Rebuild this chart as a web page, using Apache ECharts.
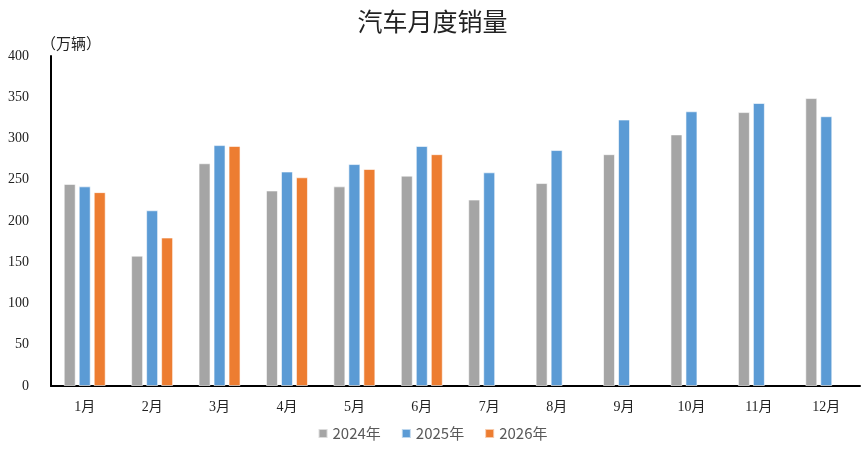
<!DOCTYPE html>
<html>
<head>
<meta charset="utf-8">
<script src="https://cdn.jsdelivr.net/npm/echarts@6/dist/echarts.min.js"></script>
<style>
  html, body { margin: 0; padding: 0; background: #fff; }
  #chart { width: 865px; height: 450px; }
</style>
</head>
<body>
<div id="chart"></div>
<script>
const months = ['1月', '2月', '3月', '4月', '5月', '6月', '7月', '8月', '9月', '10月', '11月', '12月']
const sales2024 = [245, 158, 270, 237, 242, 255, 226, 246, 281, 305, 332, 349]
const sales2025 = [242, 213, 292, 260, 269, 291, 259, 286, 323, 333, 343, 327]
const sales2026 = [235, 180, 291, 253, 263, 281, null, null, null, null, null, null]
const yTicks = [0, 400, 50]

const labelFont = '"Liberation Serif", "Noto Sans CJK SC", serif'

const makeBar = (name, data, color) => ({
  name,
  type: 'bar',
  data,
  barWidth: 12,
  barGap: '25%',
  itemStyle: { color, borderColor: 'rgba(255,255,255,0.6)', borderWidth: 1 }
})

const chart = echarts.init(document.getElementById('chart'))
chart.setOption({
  animation: false,
  title: {
    text: '汽车月度销量',
    left: 'center',
    top: 4,
    textStyle: { color: '#222', fontWeight: 'normal', fontSize: 25, fontFamily: '"Noto Sans CJK SC", sans-serif' }
  },
  legend: {
    bottom: 4,
    left: 'center',
    itemWidth: 9,
    itemHeight: 9,
    itemGap: 20,
    icon: 'rect',
    textStyle: { color: '#595959', fontSize: 15, fontFamily: '"Noto Sans CJK SC", sans-serif' }
  },
  grid: { left: 51, right: 5, top: 56, bottom: 64 },
  xAxis: {
    type: 'category',
    data: months,
    axisLine: { lineStyle: { color: '#000', width: 2 } },
    axisTick: { show: false },
    axisLabel: { color: '#222', fontSize: 14, margin: 14, fontFamily: labelFont }
  },
  yAxis: {
    type: 'value',
    min: yTicks[0],
    max: yTicks[1],
    interval: yTicks[2],
    name: '（万辆）',
    nameLocation: 'end',
    nameGap: 5,
    nameTextStyle: { color: '#222', fontSize: 15, align: 'left', padding: [0, 0, 0, -10], fontFamily: '"Noto Sans CJK SC", sans-serif' },
    axisLine: { show: true, lineStyle: { color: '#000', width: 2 } },
    axisTick: { show: false },
    splitLine: { show: false },
    axisLabel: { color: '#222', fontSize: 14, margin: 22, fontFamily: labelFont }
  },
  series: [
    makeBar('2024年', sales2024, '#A5A5A5'),
    makeBar('2025年', sales2025, '#5B9BD5'),
    makeBar('2026年', sales2026, '#ED7D31')
  ]
})
</script>
</body>
</html>
